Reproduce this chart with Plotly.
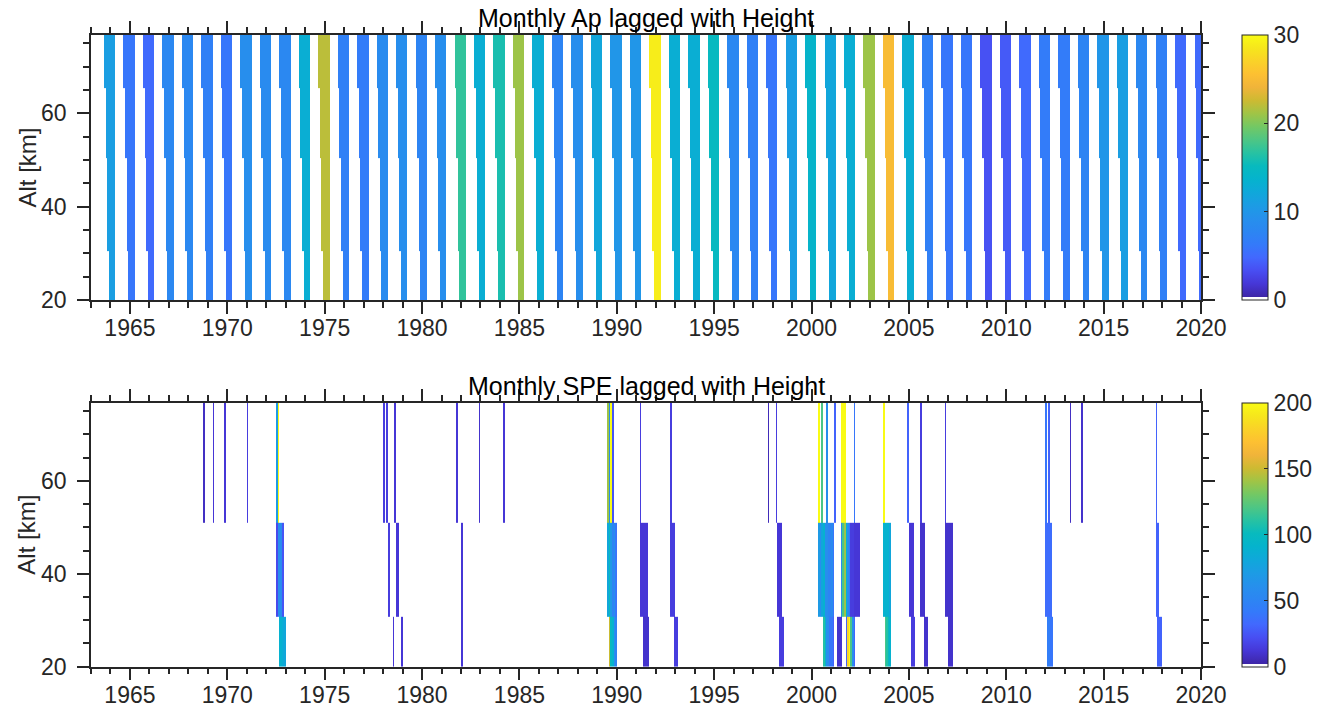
import numpy as np
import plotly.graph_objects as go

# ---------------- data ----------------
# Ap panel: one value per winter stripe (winter labelled by the January it contains)
ap_years = list(range(1964, 2021))
ap_values = [11, 6, 5, 8, 8, 7, 6, 9, 8.5, 8, 13, 22, 7, 6.5, 8.5, 9, 7.5, 9,
             17, 13, 16, 21, 13, 7.5, 9, 12, 10, 10, 29, 13, 13, 15, 8, 7, 6, 11,
             14, 12, 13, 21, 25, 13, 7, 6, 6, 3.5, 4, 5, 6.5, 6.5, 7.5, 10, 11, 8, 7, 5, 5]
# altitude bands (km) and the months (relative to January) in which each band shows the winter value
ap_band_edges = [20, 30.5, 50.5, 65.5, 77]
ap_band_first_month = [-1, -2, -3, -4]
ap_band_last_month = [2, 2, 2, 2]

# SPE panel: monthly values per altitude band
spe_band_edges = [20, 30.8, 51, 77]
spe_low_months = ["1972-09", "1972-10", "1972-11", "1972-12", "1978-07", "1978-12", "1982-01",
                  "1989-08", "1989-09", "1989-10", "1989-11", "1989-12",
                  "1991-05", "1991-06", "1991-07", "1991-08", "1992-12", "1993-01", "1993-02",
                  "1998-05", "1998-06", "1998-07",
                  "2000-08", "2000-09", "2000-10", "2000-11", "2000-12", "2001-01", "2001-02",
                  "2001-05", "2001-06", "2001-07", "2001-10", "2001-11", "2001-12", "2002-01", "2002-02", "2002-03",
                  "2003-10", "2003-11", "2003-12", "2004-01",
                  "2005-02", "2005-03", "2005-04", "2005-10", "2005-11", "2005-12",
                  "2007-01", "2007-02", "2007-03", "2012-02", "2012-03", "2012-04", "2012-05",
                  "2017-10", "2017-11", "2017-12"]
spe_low_values = [90, 90, 85, 80, 12, 12, 12,
                  150, 100, 90, 60, 50,
                  10, 10, 10, 10, 15, 15, 15,
                  15, 15, 15,
                  110, 90, 60, 60, 40, 40, 30,
                  10, 10, 10, 30, 180, 200, 120, 60, 30,
                  120, 110, 100, 90,
                  15, 15, 15, 10, 10, 10,
                  10, 10, 10, 45, 45, 40, 40,
                  30, 30, 30]
spe_mid_months = ["1972-07", "1972-08", "1972-09", "1972-10", "1972-11", "1978-04", "1978-09", "1978-10",
                  "1982-01", "1989-07", "1989-08", "1989-09", "1989-10", "1989-11", "1989-12",
                  "1991-03", "1991-04", "1991-05", "1991-06", "1991-07", "1992-10", "1992-11", "1992-12",
                  "1998-04", "1998-05", "1998-06",
                  "2000-05", "2000-06", "2000-07", "2000-08", "2000-09", "2000-10", "2000-11", "2000-12",
                  "2001-01", "2001-02", "2001-07", "2001-08", "2001-09", "2001-10", "2001-11", "2001-12",
                  "2002-01", "2002-02", "2002-03", "2002-04", "2002-05", "2002-06",
                  "2003-09", "2003-10", "2003-11", "2003-12", "2004-01",
                  "2005-01", "2005-02", "2005-03", "2005-08", "2005-09", "2005-10",
                  "2006-11", "2006-12", "2007-01", "2007-02", "2007-03",
                  "2012-01", "2012-02", "2012-03", "2012-04", "2017-09", "2017-10"]
spe_mid_values = [20, 60, 60, 55, 25, 15, 12, 12,
                  12, 80, 100, 70, 50, 60, 40,
                  12, 12, 12, 12, 12, 15, 15, 15,
                  12, 12, 12,
                  70, 60, 80, 90, 60, 60, 50, 50,
                  55, 40, 60, 120, 140, 90, 60, 40,
                  15, 15, 12, 12, 12, 12,
                  90, 90, 90, 90, 80,
                  12, 12, 12, 10, 10, 10,
                  10, 10, 10, 10, 10,
                  35, 35, 35, 35, 30, 30]
spe_top_months = ["1968-10", "1969-04", "1969-11", "1971-01", "1972-07", "1972-08",
                  "1978-01", "1978-03", "1978-08", "1981-10", "1982-12", "1984-03",
                  "1989-07", "1989-08", "1989-09", "1989-10", "1991-03", "1992-10",
                  "1997-10", "1998-03", "2000-05", "2000-07", "2000-10", "2001-03",
                  "2001-07", "2001-08", "2001-09", "2002-03", "2003-09", "2004-12",
                  "2005-08", "2006-11", "2012-01", "2012-03", "2013-04", "2013-11", "2017-09"]
spe_top_values = [8, 12, 12, 15, 70, 230,
                  15, 15, 12, 12, 10, 12,
                  140, 60, 210, 25, 15, 15,
                  6, 15, 220, 120, 60, 30,
                  220, 200, 210, 40, 220, 30,
                  15, 15, 40, 30, 8, 10, 30]

# ---------------- build grids ----------------
y0, y1 = 1963, 2021
n_months = (y1 - y0) * 12
x_edges = [y0 + k / 12 for k in range(n_months + 1)]


def month_index(s):
    yy, mm = s.split("-")
    return (int(yy) - y0) * 12 + int(mm) - 1


ap_z = np.full((len(ap_band_edges) - 1, n_months), np.nan)
for yr, val in zip(ap_years, ap_values):
    base = (yr - y0) * 12
    for b in range(len(ap_band_edges) - 1):
        for m in range(ap_band_first_month[b], ap_band_last_month[b] + 1):
            k = base + m
            if 0 <= k < n_months:
                ap_z[b, k] = val

spe_z = np.full((len(spe_band_edges) - 1, n_months), np.nan)
for b, (months, vals) in enumerate([(spe_low_months, spe_low_values),
                                     (spe_mid_months, spe_mid_values),
                                     (spe_top_months, spe_top_values)]):
    for s, v in zip(months, vals):
        spe_z[b, month_index(s)] = v

# parula-like colour scale with a white bottom slot
parula = [(62, 38, 168), (70, 55, 215), (72, 78, 242), (66, 104, 254), (52, 122, 250),
          (44, 134, 242), (38, 144, 236), (28, 156, 228), (15, 168, 218), (5, 179, 205),
          (8, 186, 190), (40, 194, 162), (78, 198, 132), (115, 200, 100), (160, 196, 70),
          (205, 186, 50), (240, 180, 58), (253, 192, 50), (250, 210, 40), (246, 230, 28),
          (249, 251, 21)]
w = 0.012
cs = [[0.0, "rgb(255,255,255)"], [w, "rgb(255,255,255)"]]
n = len(parula) - 1
for i, c in enumerate(parula):
    pos = 1.0 if i == n else round(w + 0.0001 + (1 - w - 0.0001) * i / n, 5)
    cs.append([pos, "rgb(%d,%d,%d)" % c])

W, H = 1318, 717
FONT = "Liberation Sans, Arial, Helvetica, sans-serif"
TXT = "#262626"


def px_x(v):
    return v / W


def px_y(v):
    return 1 - v / H


xl, xr = px_x(91), px_x(1201)
top_dom = [px_y(300), px_y(35)]
bot_dom = [px_y(666.7), px_y(402.7)]


def cbar(dom, vals):
    return dict(x=px_x(1241.7), xanchor="left", y=sum(dom) / 2, yanchor="middle",
                len=dom[1] - dom[0], lenmode="fraction", thickness=25.6,
                thicknessmode="pixels", outlinecolor=TXT, outlinewidth=1,
                tickvals=vals, ticks="inside", ticklen=4, tickcolor=TXT,
                tickfont=dict(family=FONT, size=23, color=TXT), xpad=0, ypad=0)


fig = go.Figure()
fig.add_trace(go.Heatmap(
    x=x_edges, y=ap_band_edges, z=ap_z, zmin=0, zmax=30, colorscale=cs,
    xaxis="x", yaxis="y", hoverongaps=False, colorbar=cbar(top_dom, [0, 10, 20, 30])))
fig.add_trace(go.Heatmap(
    x=x_edges, y=spe_band_edges, z=spe_z, zmin=0, zmax=200, colorscale=cs,
    xaxis="x2", yaxis="y2", hoverongaps=False, colorbar=cbar(bot_dom, [0, 50, 100, 150, 200])))

xax = dict(range=[1963, 2020], tick0=1965, dtick=5, ticks="outside", ticklen=12, tickwidth=1.5,
           tickcolor=TXT, showline=True, linecolor=TXT, linewidth=1.5, mirror="allticks",
           showgrid=False, zeroline=False, domain=[xl, xr], ticklabelstandoff=-5,
           tickfont=dict(family=FONT, size=23, color=TXT),
           minor=dict(dtick=1, tick0=1963, ticks="outside", ticklen=6, tickwidth=1.5, tickcolor=TXT))
yax = dict(range=[20, 76.8], tick0=0, dtick=20, ticks="outside", ticklen=12, tickwidth=1.5,
           tickcolor=TXT, showline=True, linecolor=TXT, linewidth=1.5, mirror="allticks",
           showgrid=False, zeroline=False, ticklabelstandoff=6,
           tickfont=dict(family=FONT, size=23, color=TXT),
           minor=dict(dtick=5, tick0=0, ticks="outside", ticklen=6, tickwidth=1.5, tickcolor=TXT))

fig.update_layout(
    width=W, height=H, margin=dict(l=0, r=0, t=0, b=0, autoexpand=False),
    paper_bgcolor="white", plot_bgcolor="white",
    xaxis=dict(xax, anchor="y"), yaxis=dict(yax, domain=top_dom, anchor="x"),
    xaxis2=dict(xax, anchor="y2"), yaxis2=dict(yax, domain=bot_dom, anchor="x2"),
    font=dict(family=FONT, color=TXT),
    annotations=[
        dict(text="Monthly Ap lagged with Height", x=(xl + xr) / 2, y=top_dom[1], xref="paper",
             yref="paper", xanchor="center", yanchor="bottom", yshift=1, showarrow=False,
             font=dict(family=FONT, size=25, color="black")),
        dict(text="Monthly SPE lagged with Height", x=(xl + xr) / 2, y=bot_dom[1], xref="paper",
             yref="paper", xanchor="center", yanchor="bottom", yshift=1, showarrow=False,
             font=dict(family=FONT, size=25, color="black")),
        dict(text="Alt [km]", x=px_x(27), y=sum(top_dom) / 2, xref="paper", yref="paper",
             xanchor="center", yanchor="middle", textangle=-90, showarrow=False,
             font=dict(family=FONT, size=24, color=TXT)),
        dict(text="Alt [km]", x=px_x(27), y=sum(bot_dom) / 2, xref="paper", yref="paper",
             xanchor="center", yanchor="middle", textangle=-90, showarrow=False,
             font=dict(family=FONT, size=24, color=TXT)),
    ],
)

# remove the default page margin so the 1318x717 figure fills the window exactly
fig.write_html("out.html", config={"displayModeBar": False},
               post_script="document.body.style.margin='0px';")
